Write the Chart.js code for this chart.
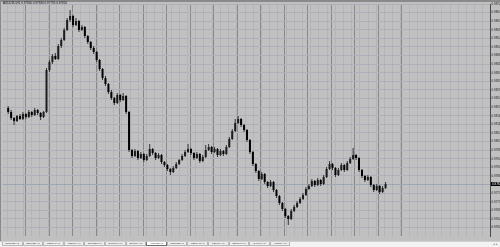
<!DOCTYPE html>
<html>
<head>
<meta charset="utf-8">
<script src="https://cdn.jsdelivr.net/npm/chart.js@4"></script>
<style>
html, body { margin: 0; padding: 0; width: 500px; height: 247px; overflow: hidden; background: #fff; font-family: "Liberation Sans", sans-serif; }
#wrap { position: absolute; left: 0; top: 0; width: 500px; height: 241px; background: #c0c0c0; }
#c { position: absolute; left: 0; top: 0; }
#topline { position: absolute; left: 0; top: 0; width: 500px; height: 2px; background: #8a8a8a; }
#leftline { position: absolute; left: 0; top: 0; width: 1px; height: 241px; background: #8a8a8a; }
#title { position: absolute; left: 3px; top: 2px; font-size: 3px; line-height: 3px; color: #111; white-space: nowrap; }
#tabs { position: absolute; left: 0; top: 241px; width: 500px; height: 6px; background: #f2f2f2; border-top: 1px solid #d0d0d0; box-sizing: border-box; }
.tab { position: absolute; top: 0; height: 4px; font-size: 2.4px; line-height: 4px; text-align: center; color: #333; border: 1px solid #b8b8b8; border-top: none; box-sizing: border-box; background: #ededed; }
.tab.on { background: #fff; border-color: #707070; }
#arrows { position: absolute; right: 2px; top: 0; font-size: 3px; line-height: 5px; color: #666; }
</style>
</head>
<body>
<div id="wrap">
  <canvas id="c" width="500" height="241"></canvas>
  <div id="topline"></div>
  <div id="leftline"></div>
  <div id="title"></div>
</div>
<div id="tabs"><span id="arrows">◂ ▸</span></div>
<script>
const symbol = 'AUDUSD,H1';
const tabNames = ['EURUSD,H1', 'GBPUSD,H1', 'USDCHF,H1', 'USDJPY,H1', 'EURGBP,H1', 'EURCHF,H1', 'EURJPY,H1',
    'AUDUSD,H1', 'NZDUSD,H1', 'USDCAD,H1', 'GBPJPY,H1', 'GBPCHF,H1', 'CHFJPY,H1', 'AUDJPY,H1'];
const activeTab = 7;

// price scale labels (right axis)
const priceTicks = [0.98720, 0.98677, 0.98634, 0.98591, 0.98548, 0.98505, 0.98462, 0.98419, 0.98376,
    0.98333, 0.98290, 0.98247, 0.98204, 0.98161, 0.98118, 0.98075, 0.98032, 0.97989, 0.97946,
    0.97903, 0.97860, 0.97817, 0.97774, 0.97731, 0.97688, 0.97645, 0.97602];
const priceMin = 0.97560, priceMax = 0.98720;

// time labels (bottom axis)
const timeLabels = ['2 Jan 2014', '2 Jan 16:00', '3 Jan 08:00', '6 Jan 00:00', '6 Jan 16:00', '7 Jan 08:00',
    '8 Jan 00:00', '8 Jan 16:00', '9 Jan 08:00', '10 Jan 00:00', '10 Jan 16:00', '13 Jan 08:00',
    '14 Jan 00:00', '14 Jan 16:00', '15 Jan 08:00', '16 Jan 00:00', '16 Jan 16:00', '17 Jan 08:00',
    '20 Jan 00:00', '20 Jan 16:00', '21 Jan 08:00', '22 Jan 00:00', '22 Jan 16:00', '23 Jan 08:00'];

// OHLC
const firstOpen = 0.98200;
const closes = [0.98180, 0.98150, 0.98135, 0.98160, 0.98145, 0.98170, 0.98155, 0.98180, 0.98165, 0.98190,
    0.98175, 0.98155, 0.98180, 0.98390, 0.98430, 0.98460, 0.98445, 0.98510, 0.98540, 0.98590,
    0.98640, 0.98660, 0.98615, 0.98635, 0.98590, 0.98605, 0.98560, 0.98530, 0.98500, 0.98480,
    0.98440, 0.98395, 0.98350, 0.98320, 0.98280, 0.98250, 0.98225, 0.98265, 0.98240, 0.98260,
    0.98180, 0.97990, 0.97960, 0.97985, 0.97950, 0.97970, 0.97940, 0.97960, 0.97995, 0.97975,
    0.97950, 0.97965, 0.97930, 0.97915, 0.97895, 0.97880, 0.97900, 0.97920, 0.97940, 0.97960,
    0.97980, 0.97995, 0.97975, 0.97950, 0.97970, 0.97935, 0.97955, 0.97990, 0.98005, 0.97980,
    0.97995, 0.97965, 0.97985, 0.97970, 0.98005, 0.98045, 0.98085, 0.98125, 0.98145, 0.98115,
    0.98090, 0.98040, 0.97980, 0.97920, 0.97885, 0.97845, 0.97870, 0.97830, 0.97810, 0.97830,
    0.97790, 0.97760, 0.97725, 0.97695, 0.97660, 0.97645, 0.97685, 0.97705, 0.97725, 0.97745,
    0.97765, 0.97795, 0.97810, 0.97835, 0.97815, 0.97840, 0.97820, 0.97855, 0.97895, 0.97920,
    0.97900, 0.97865, 0.97890, 0.97915, 0.97890, 0.97925, 0.97945, 0.97965, 0.97950, 0.97890,
    0.97860, 0.97840, 0.97855, 0.97815, 0.97790, 0.97810, 0.97780, 0.97800, 0.97820];
const highs = [0.98210, 0.98190, 0.98155, 0.98165, 0.98170, 0.98180, 0.98175, 0.98190, 0.98185, 0.98200,
    0.98195, 0.98180, 0.98185, 0.98400, 0.98440, 0.98470, 0.98475, 0.98520, 0.98550, 0.98600,
    0.98650, 0.98690, 0.98665, 0.98650, 0.98640, 0.98615, 0.98610, 0.98565, 0.98535, 0.98510,
    0.98485, 0.98445, 0.98400, 0.98360, 0.98325, 0.98290, 0.98255, 0.98275, 0.98270, 0.98275,
    0.98265, 0.98185, 0.97995, 0.97995, 0.97990, 0.97980, 0.97975, 0.97970, 0.98020, 0.98000,
    0.97980, 0.97975, 0.97970, 0.97935, 0.97920, 0.97900, 0.97910, 0.97930, 0.97945, 0.97970,
    0.97990, 0.98020, 0.98000, 0.97980, 0.97980, 0.97975, 0.97965, 0.98015, 0.98020, 0.98010,
    0.98005, 0.98000, 0.97995, 0.97990, 0.98015, 0.98055, 0.98095, 0.98145, 0.98160, 0.98150,
    0.98120, 0.98095, 0.98045, 0.97985, 0.97925, 0.97890, 0.97880, 0.97875, 0.97835, 0.97840,
    0.97835, 0.97795, 0.97765, 0.97730, 0.97700, 0.97665, 0.97695, 0.97715, 0.97735, 0.97755,
    0.97775, 0.97805, 0.97820, 0.97845, 0.97840, 0.97850, 0.97845, 0.97865, 0.97905, 0.97935,
    0.97925, 0.97905, 0.97900, 0.97925, 0.97920, 0.97935, 0.97955, 0.98000, 0.97970, 0.97955,
    0.97895, 0.97865, 0.97865, 0.97860, 0.97820, 0.97820, 0.97815, 0.97810, 0.97830];
const lows = [0.98170, 0.98140, 0.98115, 0.98130, 0.98140, 0.98140, 0.98145, 0.98150, 0.98155, 0.98160,
    0.98165, 0.98140, 0.98150, 0.98175, 0.98380, 0.98420, 0.98440, 0.98440, 0.98500, 0.98535,
    0.98585, 0.98630, 0.98605, 0.98610, 0.98580, 0.98585, 0.98550, 0.98520, 0.98490, 0.98470,
    0.98430, 0.98385, 0.98340, 0.98310, 0.98270, 0.98240, 0.98215, 0.98220, 0.98230, 0.98235,
    0.98170, 0.97980, 0.97950, 0.97955, 0.97940, 0.97945, 0.97930, 0.97935, 0.97955, 0.97965,
    0.97940, 0.97945, 0.97920, 0.97905, 0.97885, 0.97865, 0.97875, 0.97895, 0.97915, 0.97935,
    0.97955, 0.97975, 0.97965, 0.97940, 0.97945, 0.97925, 0.97930, 0.97950, 0.97985, 0.97970,
    0.97975, 0.97955, 0.97960, 0.97960, 0.97965, 0.98000, 0.98040, 0.98080, 0.98120, 0.98105,
    0.98080, 0.98030, 0.97970, 0.97910, 0.97875, 0.97835, 0.97840, 0.97820, 0.97800, 0.97805,
    0.97780, 0.97750, 0.97715, 0.97685, 0.97650, 0.97615, 0.97640, 0.97680, 0.97700, 0.97720,
    0.97740, 0.97760, 0.97790, 0.97805, 0.97805, 0.97810, 0.97810, 0.97815, 0.97850, 0.97890,
    0.97890, 0.97855, 0.97860, 0.97885, 0.97880, 0.97885, 0.97920, 0.97940, 0.97940, 0.97880,
    0.97850, 0.97830, 0.97835, 0.97805, 0.97780, 0.97785, 0.97770, 0.97775, 0.97795];

// each bar opens where the previous one closed
const opens = [firstOpen].concat(closes.slice(0, -1));
const last = closes.length - 1;

// x axis in bar units (3px per bar, bar centres on whole pixels)
const xMin = -1 / 3, xMax = 162;
const daySep0 = 6.57, daySepStep = 8.35, daySepCount = 16;   // period separators
const gridStep = daySepStep / 3;
const labelStep = 17 / 3;

document.getElementById('title').innerText =
    `${symbol}  ${opens[last].toFixed(5)} ${highs[last].toFixed(5)} ${lows[last].toFixed(5)} ${closes[last].toFixed(5)}`;

// tabs
const tabs = document.getElementById('tabs');
tabNames.forEach((t, i) => {
    const d = document.createElement('div');
    d.className = 'tab' + (i === activeTab ? ' on' : '');
    d.style.left = (2 + i * 20.6) + 'px';
    d.style.width = '20.6px';
    d.innerText = t;
    tabs.appendChild(d);
});

const idx = closes.map((_, i) => i);

const bidLine = {
    id: 'bidLine',
    beforeDatasetsDraw(chart) {
        const { ctx, chartArea, scales } = chart;
        const y = Math.round(scales.y.getPixelForValue(closes[last])) + 0.5;
        ctx.save();
        ctx.strokeStyle = '#9ea6b6';
        ctx.lineWidth = 1;
        ctx.beginPath();
        ctx.moveTo(chartArea.left, y);
        ctx.lineTo(chartArea.right, y);
        ctx.stroke();
        ctx.restore();
    },
    afterDraw(chart) {
        const { ctx, chartArea, scales } = chart;
        const y = scales.y.getPixelForValue(closes[last]);
        ctx.save();
        ctx.fillStyle = '#000';
        ctx.fillRect(chartArea.right + 1, y - 2, 9, 4);
        ctx.fillStyle = '#fff';
        ctx.font = '3px "Liberation Sans"';
        ctx.textBaseline = 'middle';
        ctx.fillText(closes[last].toFixed(5), chartArea.right + 2, y);
        ctx.restore();
    }
};

new Chart(document.getElementById('c'), {
    type: 'bar',
    data: {
        datasets: [{
            data: idx.map(i => ({ x: i, y: [lows[i], highs[i]] })),
            backgroundColor: '#333',
            barThickness: 1,
            inflateAmount: 0,
            grouped: false,
            order: 2
        }, {
            data: idx.map(i => ({ x: i, y: [opens[i], closes[i]] })),
            backgroundColor: idx.map(i => closes[i] >= opens[i] ? '#1c1c1c' : '#000'),
            barThickness: 2,
            inflateAmount: 0,
            grouped: false,
            order: 1
        }]
    },
    options: {
        responsive: false,
        animation: false,
        layout: { padding: { left: 3, top: 4, right: 0, bottom: 0 } },
        plugins: { legend: { display: false }, tooltip: { enabled: false } },
        scales: {
            x: {
                type: 'linear', min: xMin, max: xMax, position: 'bottom',
                ticks: { display: false },
                grid: { color: '#b2b4bc', drawTicks: false },
                border: { display: false },
                afterBuildTicks: s => {
                    const t = [];
                    for (let v = daySep0 - 2 * gridStep; v <= s.max; v += gridStep) if (v >= s.min) t.push({ value: v });
                    s.ticks = t;
                }
            },
            xd: {
                type: 'linear', min: xMin, max: xMax, position: 'bottom',
                ticks: { display: false },
                grid: { color: '#878787', drawTicks: false },
                border: { display: false },
                afterBuildTicks: s => {
                    const t = [];
                    for (let k = 0; k < daySepCount; k++) t.push({ value: daySep0 + k * daySepStep });
                    s.ticks = t;
                }
            },
            xt: {
                type: 'linear', min: xMin, max: xMax, position: 'bottom',
                grid: { display: false },
                border: { display: false },
                ticks: {
                    autoSkip: false, maxRotation: 0, align: 'start', padding: 1,
                    color: '#222', font: { size: 3, family: 'Liberation Sans' },
                    callback: (v, i) => timeLabels[i]
                },
                afterBuildTicks: s => {
                    s.ticks = timeLabels.map((_, k) => ({ value: xMin + k * labelStep }));
                },
                afterFit: s => { s.height = 5; }
            },
            y: {
                position: 'right', min: priceMin, max: priceMax,
                grid: { color: '#aeb1ba', tickColor: '#555', tickLength: 1 },
                border: { color: '#4a4a4a' },
                ticks: {
                    padding: 0.5, color: '#222', font: { size: 3, family: 'Liberation Sans' },
                    callback: v => v.toFixed(5)
                },
                afterBuildTicks: s => {
                    s.ticks = priceTicks.filter(v => v >= s.min - 1e-9 && v <= s.max + 1e-9).map(v => ({ value: v }));
                },
                afterFit: s => { s.width = 10; }
            }
        }
    },
    plugins: [bidLine]
});
</script>
</body>
</html>
